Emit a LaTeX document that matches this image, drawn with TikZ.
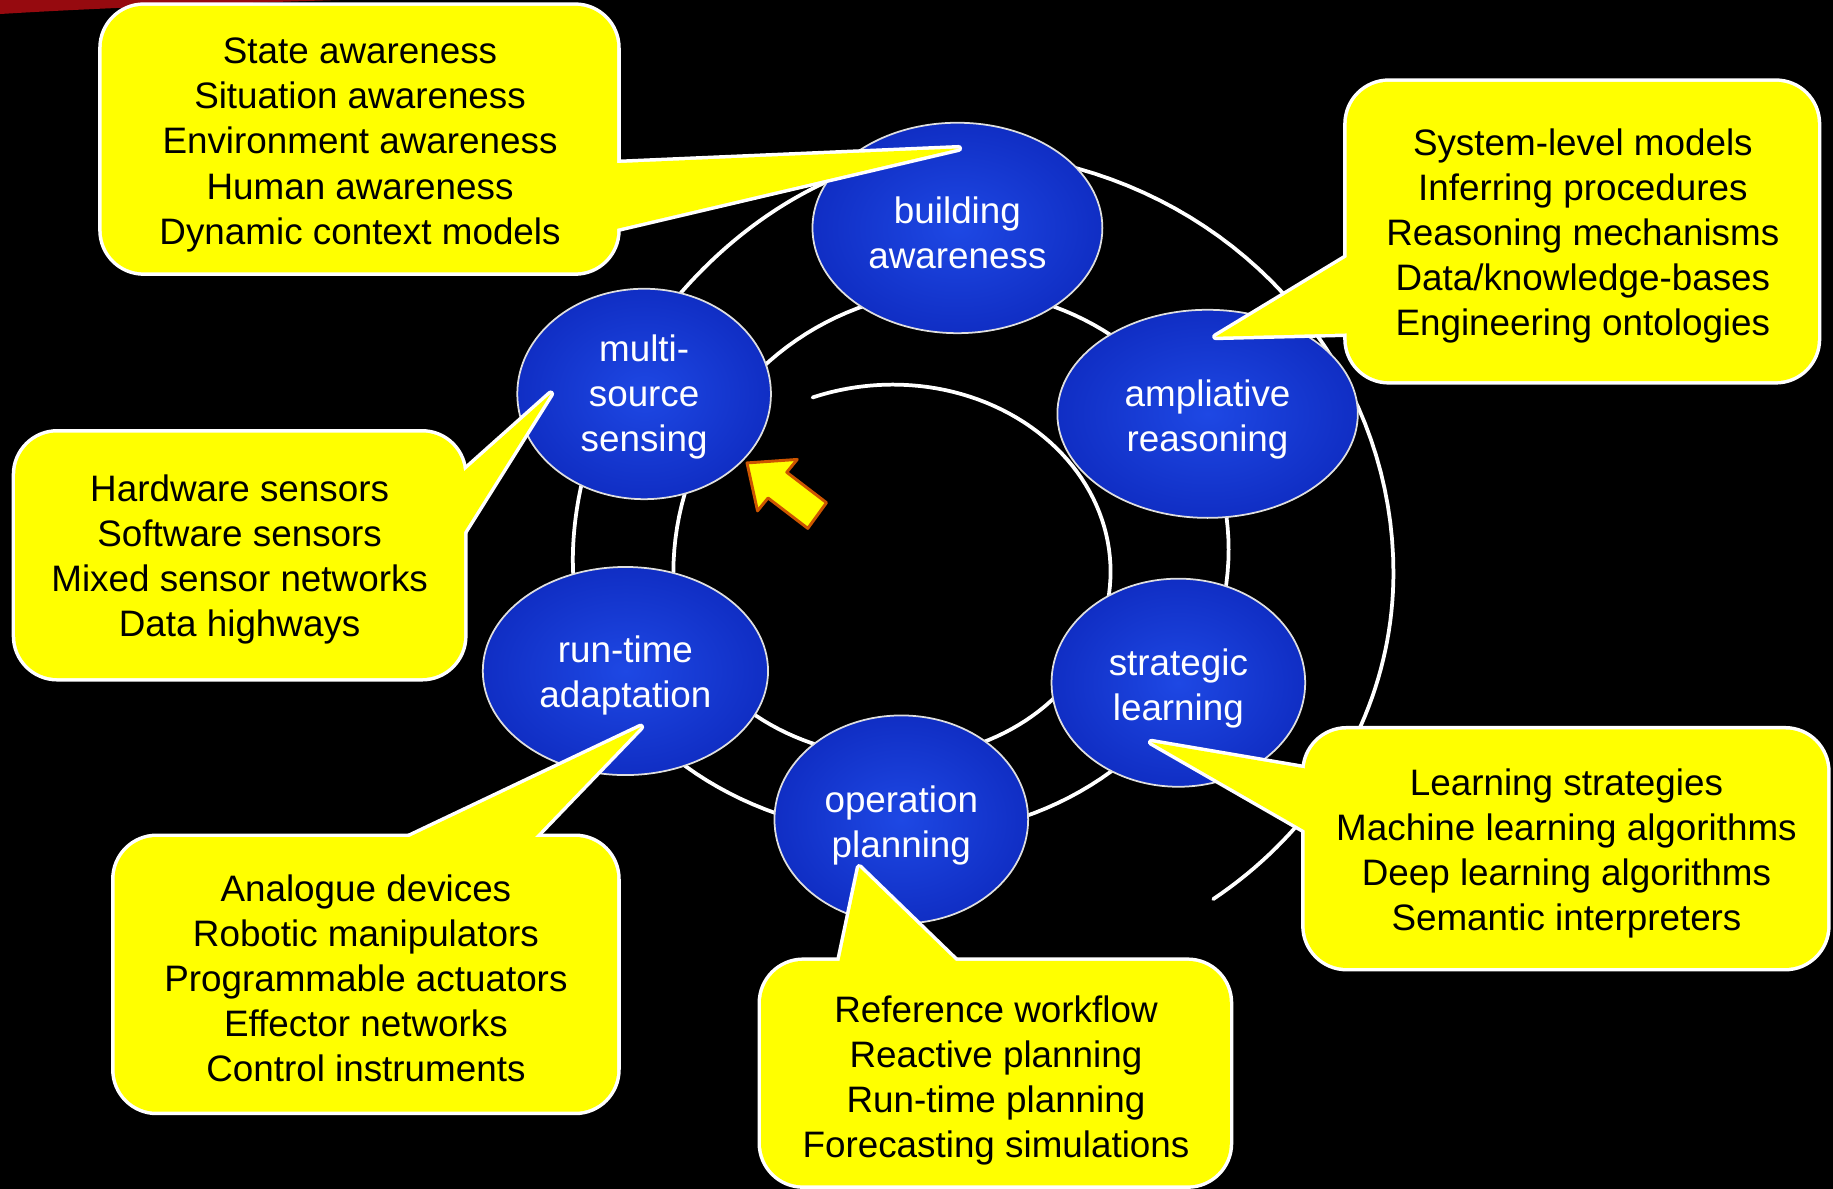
\documentclass[tikz,border=0pt]{standalone}
\usepackage{fontspec}
\setmainfont{Liberation Sans}
\usetikzlibrary{shapes.geometric,calc}
\definecolor{cy}{RGB}{255,255,0}
\definecolor{bluein}{RGB}{30,72,228}
\definecolor{blueout}{RGB}{16,46,196}
\definecolor{arrowedge}{RGB}{205,85,0}
\definecolor{swoosh}{RGB}{150,10,15}
\newcommand{\mkcallout}[5]{%
  \path[cstroke, rounded corners=36pt] #1 rectangle #2;
  \path[cstroke] #3 -- #4 -- #5 -- cycle;
  \fill[cy, rounded corners=36pt] #1 rectangle #2;
  \fill[cy] #3 -- #4 -- #5 -- cycle;
}
\begin{document}
\begin{tikzpicture}[x=1pt,y=-1pt,
  ring/.style={white, line width=3.2pt, line cap=round, line join=round},
  bub/.style={ellipse, draw=white!75!gray, line width=1.5pt, inner color=bluein, outer color=blueout, inner sep=0pt},
  btext/.style={text=white, font=\fontsize{31.5}{38.5}\selectfont, align=center, inner sep=0pt},
  ctext/.style={text=black, font=\fontsize{31.5}{38.5}\selectfont, align=center, inner sep=0pt},
  cstroke/.style={draw=white, line width=6pt, line join=round},
  blockarrow/.style={fill=cy, draw=arrowedge, line width=2.5pt, line join=round},
  q/.style={samples=40, variable=\t}
]
\useasboundingbox (0,0) rectangle (1568,1017);
\fill[black] (0,0) rectangle (1568,1017);
\fill[swoosh] (0,0) -- (290,0) .. controls (190,3) and (80,7) .. (0,12) -- cycle;

% spiral, built from quarter ellipses (screen angles, y downwards)
\draw[ring]
  plot[q, domain=-111.4:-90] ({764+189*cos(\t)},{489+160*sin(\t)})
  -- plot[q, domain=-90:0] ({764+186*cos(\t)},{489+160*sin(\t)})
  -- plot[q, domain=0:90] ({769+181*cos(\t)},{489+159*sin(\t)})
  -- plot[q, domain=90:180] ({769+193*cos(\t)},{490+158*sin(\t)})
  -- plot[q, domain=180:270] ({820+244*cos(\t)},{490+242*sin(\t)})
  -- plot[q, domain=-90:0] ({820+231*cos(\t)},{470+222*sin(\t)})
  -- plot[q, domain=0:90] ({778+273*cos(\t)},{470+245*sin(\t)})
  -- plot[q, domain=90:180] ({778+288*cos(\t)},{480+235*sin(\t)})
  .. controls (490,305) and (654,130) .. (818,130)
  -- plot[q, domain=-90:0] ({818+374*cos(\t)},{490+360*sin(\t)})
  -- plot[q, domain=0:54] ({818+374*cos(\t)},{490+345*sin(\t)});

% bubbles
\node[bub, minimum width=248pt, minimum height=180pt] (ba) at (819,195) {};
\node[bub, minimum width=217pt, minimum height=180pt] (ms) at (551,337) {};
\node[bub, minimum width=257pt, minimum height=178pt] (ar) at (1033,354) {};
\node[bub, minimum width=217pt, minimum height=178pt] (sl) at (1008,584) {};
\node[bub, minimum width=217pt, minimum height=178pt] (op) at (771,701) {};
\node[bub, minimum width=244pt, minimum height=178pt] (rt) at (535,574) {};
\node[btext] (bat) at ($(ba.center)+(0,4)$) {building\\awareness};
\node[btext] (mst) at ($(ms.center)+(0,3)$) {multi-\\source\\sensing};
\node[btext] (art) at ($(ar.center)+(0,5)$) {ampliative\\reasoning};
\node[btext] (slt) at ($(sl.center)+(0,5)$) {strategic\\learning};
\node[btext] (opt) at ($(op.center)+(0,5)$) {operation\\planning};
\node[btext] (rtt) at ($(rt.center)+(0,4)$) {run-time\\adaptation};

% callout tips
\coordinate (tip1) at ($(ba.center)+(1,-68)$);
\coordinate (tip2) at ($(ar.center)+(7,-66)$);
\coordinate (tip3) at ($(ms.center)+(-80,0)$);
\coordinate (tip4) at ($(rt.center)+(13,48)$);
\coordinate (tip5) at ($(op.center)+(-36,41)$);
\coordinate (tip6) at ($(sl.center)+(-23,51)$);

% callouts
\mkcallout{(87,5)}{(528,233)}{(518,140)}{(tip1)}{(518,198)}
\node[ctext] (t1) at (308,124) {State awareness\\Situation awareness\\Environment awareness\\Human awareness\\Dynamic context models};

\mkcallout{(1152,70)}{(1555,326)}{(1162,214)}{(tip2)}{(1162,285)}
\node[ctext] (t2) at (1354,202) {System-level models\\Inferring procedures\\Reasoning mechanisms\\Data/knowledge-bases\\Engineering ontologies};

\mkcallout{(13,370)}{(397,580)}{(387,412)}{(tip3)}{(387,471)}
\node[ctext] (t3) at (205,479) {Hardware sensors\\Software sensors\\Mixed sensor networks\\Data highways};

\mkcallout{(98,716)}{(528,951)}{(329,726)}{(tip4)}{(448,726)}
\node[ctext] (t4) at (313,837) {Analogue devices\\Robotic manipulators\\Programmable actuators\\Effector networks\\Control instruments};

\mkcallout{(651,822)}{(1052,1014)}{(716,832)}{(tip5)}{(828,832)}
\node[ctext] (t5) at (852,924) {Reference workflow\\Reactive planning\\Run-time planning\\Forecasting simulations};

\mkcallout{(1116,624)}{(1563,828)}{(1126,659)}{(tip6)}{(1126,716)}
\node[ctext] (t6) at (1340,730) {Learning strategies\\Machine learning algorithms\\Deep learning algorithms\\Semantic interpreters};

% block arrow
\draw[blockarrow] (639,396) -- (682,393) -- (673,404) -- (707,430) -- (691,452) -- (657,426) -- (648,437) -- cycle;
\end{tikzpicture}
\end{document}
